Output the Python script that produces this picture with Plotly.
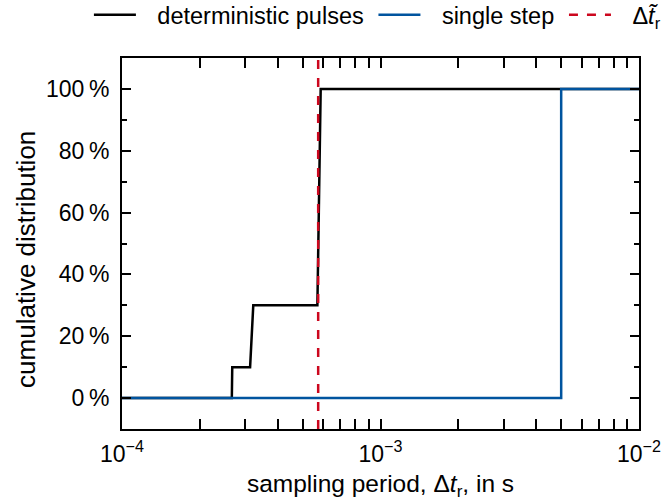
import plotly.graph_objects as go

# data
det_x = [1e-4, 2.66e-4, 2.67e-4, 3.13e-4, 3.22e-4, 5.70e-4, 5.87e-4, 1e-2]
det_y = [0, 0, 10, 10, 30, 30, 100, 100]
step_x = [1e-4, 5.0e-3, 5.0e-3, 1e-2]
step_y = [0, 0, 100, 100]
dt_r = 5.74e-4

xtick_vals = [1e-4, 1e-3, 1e-2]
xtick_text = ["10<sup>\u22124</sup>", "10<sup>\u22123</sup>", "10<sup>\u22122</sup>"]
ytick_vals = [0, 20, 40, 60, 80, 100]
ytick_text = [f"{v}\u2009%" for v in ytick_vals]
y_title = "cumulative distribution"
x_title = "sampling period, \u0394<i>t</i><sub>r</sub>, in s"

BLACK = "#000000"
BLUE = "#00549F"
RED = "#CC071E"
FONT = "Liberation Sans, Arial, sans-serif"

# all log ticks (major + minor) on x
all_x = []
all_xt = []
for dec in [1e-4, 1e-3]:
    for m in range(1, 10):
        all_x.append(m * dec)
        all_xt.append(xtick_text[xtick_vals.index(dec)] if m == 1 else "")
all_x.append(1e-2)
all_xt.append(xtick_text[2])

PRE = "\u2002\u2009"
POST = "\u2009"

fig = go.Figure()
fig.add_trace(go.Scatter(x=det_x, y=det_y, mode="lines", name=PRE + "deterministic pulses" + POST,
                         line=dict(color=BLACK, width=2.5)))
fig.add_trace(go.Scatter(x=step_x, y=step_y, mode="lines", name=PRE + "single step" + POST,
                         line=dict(color=BLUE, width=2.5)))
fig.add_trace(go.Scatter(x=[dt_r, dt_r], y=[-10, 110], mode="lines",
                         name=PRE + "\u0394<i>t\u0303</i><sub>r</sub>",
                         line=dict(color=RED, width=2.5, dash="dash")))

fig.update_layout(
    width=666, height=501,
    margin=dict(l=122, r=27, t=58, b=72, autoexpand=False),
    paper_bgcolor="white", plot_bgcolor="white",
    font=dict(family=FONT, size=23, color="black"),
    showlegend=True,
    legend=dict(orientation="h", x=-0.064, xanchor="left", y=1.116, yanchor="middle",
                font=dict(size=23.5), itemwidth=42, bgcolor="rgba(0,0,0,0)",
                traceorder="normal", tracegroupgap=0),
    annotations=[dict(text=y_title, textangle=-90, xref="paper", yref="paper",
                      x=-0.186, y=0.458, xanchor="center", yanchor="middle",
                      showarrow=False, font=dict(size=26))],
)
fig.update_xaxes(
    type="log", range=[-4, -2],
    tickvals=all_x, ticktext=all_xt,
    ticks="inside", ticklen=10, tickwidth=1.5, tickcolor="black",
    showline=True, linecolor="black", linewidth=2, mirror="ticks",
    showgrid=False, zeroline=False, automargin=False,
    tickfont=dict(size=23),
    title=dict(text=x_title, standoff=10, font=dict(size=24.5)),
    ticklabelstandoff=3,
)
fig.update_yaxes(
    range=[-10, 110],
    tickvals=ytick_vals, ticktext=ytick_text,
    ticks="inside", ticklen=9, tickwidth=1.5, tickcolor="black",
    minor=dict(dtick=10, tick0=0, ticks="inside", ticklen=5, tickwidth=1.5, tickcolor="black"),
    showline=True, linecolor="black", linewidth=2, mirror="ticks",
    showgrid=False, zeroline=False, automargin=False,
    tickfont=dict(size=23),
    ticklabelstandoff=6,
)

fig.write_html("out.html", config={"displayModeBar": False},
               post_script="document.body.style.margin='0';")
